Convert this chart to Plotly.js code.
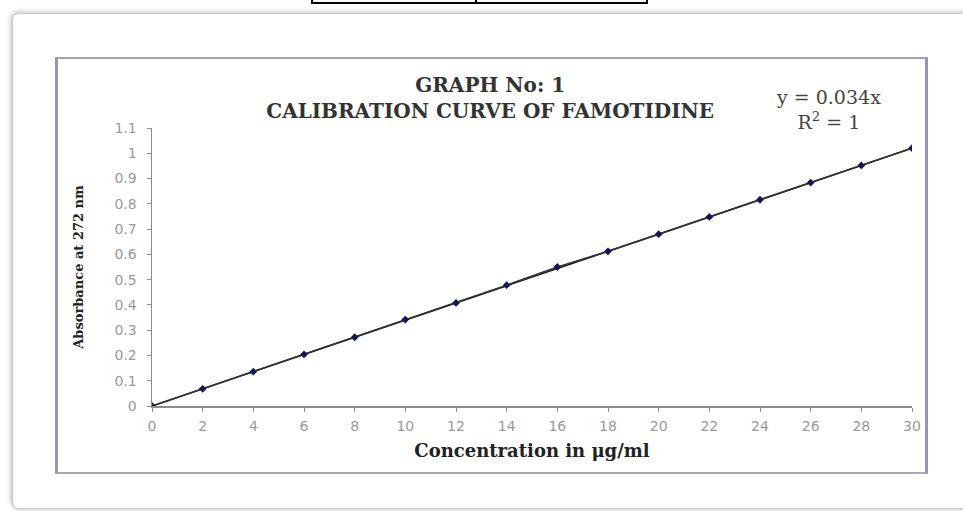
<!DOCTYPE html>
<html>
<head>
<meta charset="utf-8">
<script src="https://cdn.plot.ly/plotly-3.0.1.min.js"></script>
<style>
  html, body { margin: 0; padding: 0; background: #ffffff; }
  #wrap { position: relative; width: 963px; height: 511px; overflow: hidden; background: #fff; }
  #tablebox { position: absolute; left: 311px; top: -3px; width: 333px; height: 3px; border: 2px solid #000; }
  #tablediv { position: absolute; left: 162px; top: 0; width: 2px; height: 3px; background: #000; }
  #panel { position: absolute; left: 12px; top: 13px; width: 970px; height: 494px;
           border: 1px solid #c8c8c8; border-radius: 7px;
           box-shadow: -2px -2px 4px rgba(0,0,0,0.18), 0 2px 3px rgba(0,0,0,0.12); background: #fff; }
  #inner { position: absolute; left: 55px; top: 57px; width: 867px; height: 413px;
           border-top: 2px solid #a2a2aa; border-bottom: 2px solid #a8a8ae;
           border-left: 3px solid #9a93b8; border-right: 3px solid #9a92bd; }
  #chart { position: absolute; left: 0; top: 0; width: 963px; height: 511px; }
</style>
</head>
<body>
<div id="wrap">
  <div id="panel"></div>
  <div id="tablebox"><div id="tablediv"></div></div>
  <div id="inner"></div>
  <div id="chart"></div>
</div>
<script>
// Data
const concentration = [0, 2, 4, 6, 8, 10, 12, 14, 16, 18, 20, 22, 24, 26, 28, 30];
const absorbance = [0, 0.068, 0.136, 0.204, 0.272, 0.342, 0.408, 0.478, 0.550, 0.612, 0.680, 0.748, 0.816, 0.884, 0.952, 1.020];
const trendX = [0, 30];
const trendY = [0, 1.02];
const xTickVals = [0, 2, 4, 6, 8, 10, 12, 14, 16, 18, 20, 22, 24, 26, 28, 30];
const yTickVals = [0, 0.1, 0.2, 0.3, 0.4, 0.5, 0.6, 0.7, 0.8, 0.9, 1, 1.1];
const yTickText = ["0", "0.1", "0.2", "0.3", "0.4", "0.5", "0.6", "0.7", "0.8", "0.9", "1", "1.1"];
const chartTitle = "GRAPH No: 1<br>CALIBRATION CURVE OF FAMOTIDINE";
const equationText = "y = 0.034x<br>R<sup>2</sup> = 1";
const xTitle = "Concentration in μg/ml";
const yTitle = "Absorbance at 272 nm";

const serif = "DejaVu Serif, Liberation Serif, serif";
const sans = "DejaVu Sans, Liberation Sans, sans-serif";

const traces = [
  {
    x: trendX, y: trendY, type: "scatter", mode: "lines",
    line: { color: "#1c1c1c", width: 1.6 },
    hoverinfo: "skip", showlegend: false
  },
  {
    x: concentration, y: absorbance, type: "scatter", mode: "lines+markers",
    line: { color: "#333333", width: 1.6 },
    marker: { symbol: "diamond", size: 6, color: "#151550" },
    showlegend: false
  }
];

const layout = {
  width: 963, height: 511,
  margin: { l: 152, r: 51, t: 128, b: 105 },
  paper_bgcolor: "rgba(0,0,0,0)",
  plot_bgcolor: "rgba(0,0,0,0)",
  title: {
    text: chartTitle,
    font: { family: serif, size: 20, color: "#333", weight: "bold" },
    x: 0.509, xanchor: "center",
    y: 0.819, yanchor: "middle", yref: "container"
  },
  xaxis: {
    range: [0, 30],
    tickvals: xTickVals,
    ticks: "outside", ticklen: 4, tickcolor: "#8c8c8c",
    showline: true, linecolor: "#8c8c8c", linewidth: 1.5,
    showgrid: false, zeroline: false,
    ticklabelstandoff: 3,
    tickfont: { family: sans, size: 14, color: "#999999" },
    title: { text: xTitle, font: { family: serif, size: 18, color: "#222", weight: "bold" }, standoff: 11 },
    automargin: false
  },
  yaxis: {
    range: [0, 1.1],
    tickvals: yTickVals, ticktext: yTickText,
    ticks: "outside", ticklen: 4, tickcolor: "#8c8c8c",
    showline: true, linecolor: "#8c8c8c", linewidth: 1.5,
    showgrid: false, zeroline: false,
    ticklabelstandoff: 7,
    tickfont: { family: sans, size: 14, color: "#999999" },
    title: { text: yTitle, font: { family: serif, size: 13, color: "#222", weight: "bold" }, standoff: 28 },
    automargin: false
  },
  annotations: [
    {
      text: equationText, xref: "paper", yref: "paper",
      x: (828 - 152) / 760, y: (406 - 110) / 278,
      xanchor: "center", yanchor: "middle", showarrow: false, align: "center",
      font: { family: serif, size: 19, color: "#444" }
    }
  ]
};

Plotly.newPlot("chart", traces, layout, { displayModeBar: false, staticPlot: true });
</script>
</body>
</html>
